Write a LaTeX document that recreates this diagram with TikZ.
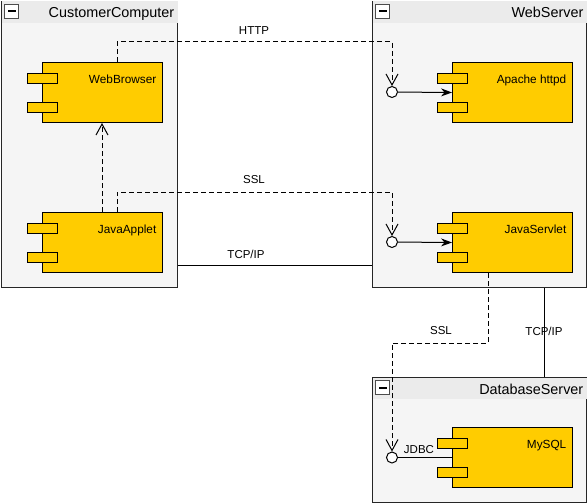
\documentclass[tikz,border=0pt]{standalone}
\usepackage{fontspec}
\setmainfont{Liberation Sans}
\usetikzlibrary{arrows.meta,calc}
\definecolor{compfill}{HTML}{FFCC00}
\definecolor{boxfill}{HTML}{F5F5F5}
\definecolor{hdrfill}{HTML}{EBEBEB}
\tikzset{
 container/.style={draw=black!85, fill=boxfill, line width=1pt, inner sep=0, anchor=north west},
 header/.style={fill=hdrfill},
 title/.style={font=\fontsize{14.4}{16}\selectfont, anchor=base east, inner sep=0},
 comp/.style={draw=black, fill=compfill, line width=1pt, inner sep=0, minimum width=120pt, minimum height=60pt, anchor=north west},
 port/.style={draw=black, fill=compfill, line width=1pt, inner sep=0, minimum width=30pt, minimum height=10pt},
 clabel/.style={font=\fontsize{11.8}{14}\selectfont, anchor=base east, inner sep=0},
 elabel/.style={font=\fontsize{11.5}{14}\selectfont, inner sep=0},
 iface/.style={circle, draw=black, fill=white, line width=1pt, minimum size=11pt, inner sep=0},
 dep/.style={draw, line width=1pt, dash pattern=on 5pt off 3pt, -{Straight Barb[length=11pt,width=12pt]}},
 conn/.style={draw, line width=1pt},
 req/.style={draw, line width=1pt, -{Stealth[length=11pt,width=8pt]}},
 minusbox/.style={draw=black!70, fill=white, line width=1pt, minimum size=14pt, inner sep=0, anchor=north west},
}
\newcommand\mkcontainer[6]{%
 \node[container, minimum width=#4pt, minimum height=#5pt] (#1) at (#2,#3) {};
 \fill[header] ([shift={(0.5pt,-0.5pt)}]#1.north west) rectangle ([shift={(-0.5pt,-22pt)}]#1.north east);
 \node[minusbox] (#1-m) at ([shift={(3pt,-3pt)}]#1.north west) {};
 \fill ([shift={(-4pt,-1pt)}]#1-m.center) rectangle ([shift={(4pt,1pt)}]#1-m.center);
 \node[title] (#1-t) at ([shift={(-3.5pt,-17pt)}]#1.north east) {#6};
}
\newcommand\mkcomp[4]{%
 \node[comp] (#1) at (#2,#3) {};
 \node[port] (#1-p1) at ([shift={(0,-16pt)}]#1.north west) {};
 \node[port] (#1-p2) at ([shift={(0,-45pt)}]#1.north west) {};
 \node[clabel] (#1-l) at ([shift={(-6.5pt,-21pt)}]#1.north east) {#4};
}
\begin{document}
\begin{tikzpicture}[x=1pt,y=-1pt]
\useasboundingbox (0,0) rectangle (588,503);
\fill[white] (0,0) rectangle (588,503);
% containers
\mkcontainer{cc}{1}{1}{176}{286}{CustomerComputer}
\mkcontainer{ws}{372}{1}{214}{286}{WebServer}
\mkcontainer{db}{372}{377}{214}{125}{DatabaseServer}
% components
\mkcomp{wb}{42}{62}{WebBrowser}
\mkcomp{ja}{42}{212}{JavaApplet}
\mkcomp{ah}{452}{62}{Apache httpd}
\mkcomp{js}{452}{212}{JavaServlet}
\mkcomp{my}{452}{427}{MySQL}
% interfaces
\node[iface] (ah-i) at (392,92) {};
\node[iface] (js-i) at (392,242) {};
\node[iface] (my-i) at (392,457.5) {};
% connectors
\draw[req] (ah-i) -- (ah.west);
\draw[req] (js-i) -- (js.west);
\draw[conn] (my-i) -- (my-i -| my.west);
\draw[dep] ([xshift=75pt]wb.north west) -- ++(0,-20) -| (ah-i.north);
\draw[dep] ([xshift=60pt]ja.north west) -- ([xshift=60pt]wb.south west);
\draw[dep] ([xshift=75pt]ja.north west) -- ++(0,-20) -| (js-i.north);
\draw[dep] ([xshift=36pt]js.south west) -- ++(0,70) -| (my-i.north);
\coordinate (t1) at ($(ja.south)+(0,-8)$);
\draw[conn] (cc.east |- t1) -- (ws.west |- t1);
\draw[conn] ([xshift=172pt]ws.south west) -- ([xshift=172pt]db.north west);
% labels
\node[elabel] (l-http) at (254,31) {HTTP};
\node[elabel] (l-ssl1) at (254,180) {SSL};
\node[elabel] (l-tcp1) at (246,254) {TCP/IP};
\node[elabel] (l-ssl2) at (441,331) {SSL};
\node[elabel] (l-tcp2) at (544,331) {TCP/IP};
\node[elabel] (l-jdbc) at (419,450) {JDBC};
\end{tikzpicture}
\end{document}
